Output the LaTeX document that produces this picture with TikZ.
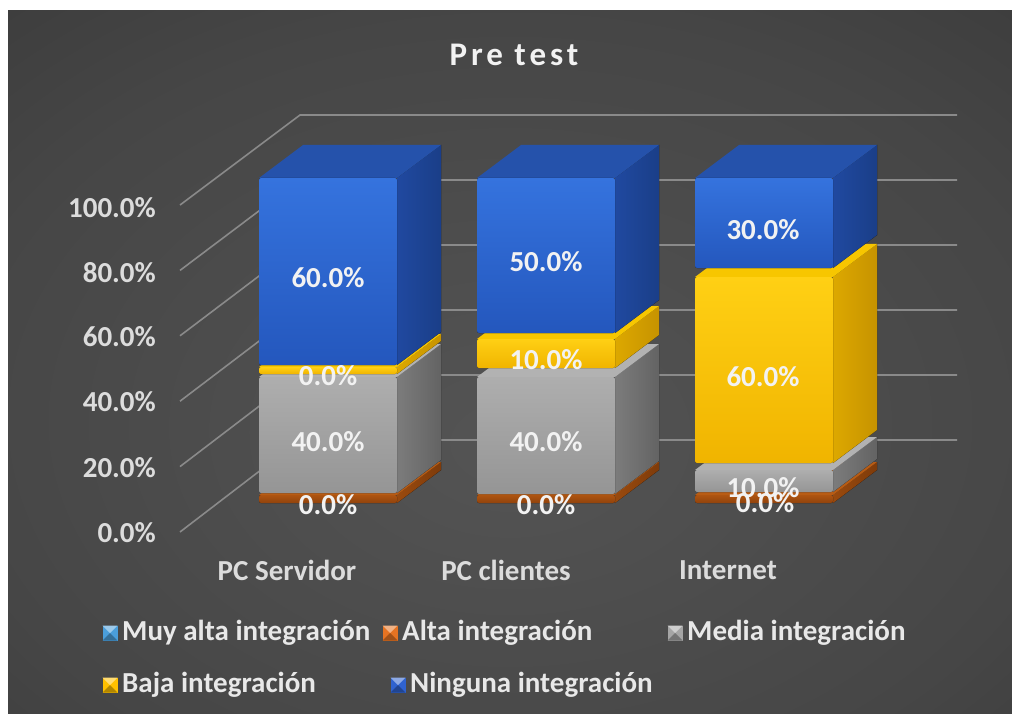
\documentclass[tikz,border=0pt]{standalone}
\usepackage{fontspec}
\setmainfont{Carlito}
\newfontfamily\titlefont{Carlito}[LetterSpace=12]

% background and text colours
\definecolor{bgA}{HTML}{545454}
\definecolor{bgB}{HTML}{464646}
\definecolor{bgC}{HTML}{323232}
\definecolor{bgD}{HTML}{252525}
\definecolor{gridc}{HTML}{8A8A8A}
\definecolor{axc}{HTML}{DCDCDC}
\definecolor{datc}{HTML}{F2F2F2}
\definecolor{legc}{HTML}{E8E8E8}
% series colours: front top/bottom, top face, side light/dark
\definecolor{blA}{HTML}{3573DE}\definecolor{blB}{HTML}{2457BD}\definecolor{blT}{HTML}{2552AB}
\definecolor{blS}{HTML}{2049A0}\definecolor{blD}{HTML}{1A3E88}
\definecolor{grA}{HTML}{AEAEAE}\definecolor{grB}{HTML}{959595}\definecolor{grT}{HTML}{B2B2B2}
\definecolor{grS}{HTML}{7C7C7C}\definecolor{grD}{HTML}{636363}
\definecolor{yeA}{HTML}{FFD014}\definecolor{yeB}{HTML}{F0B400}\definecolor{yeT}{HTML}{F7C600}
\definecolor{yeS}{HTML}{DDA800}\definecolor{yeD}{HTML}{C69300}
\definecolor{orA}{HTML}{AE5410}\definecolor{orB}{HTML}{90430C}\definecolor{orT}{HTML}{B85C14}
\definecolor{orS}{HTML}{9A4A0E}\definecolor{orD}{HTML}{7E3B0A}
% legend key colours
\definecolor{kMuy}{HTML}{4A9EDB}
\definecolor{kAlta}{HTML}{E57322}
\definecolor{kMedia}{HTML}{A5A5A5}
\definecolor{kBaja}{HTML}{FFC000}
\definecolor{kNing}{HTML}{2F62CF}

\pgfdeclareradialshading{bgglow}{\pgfpoint{0bp}{-6bp}}{%
  color(0bp)=(bgA); color(28bp)=(bgB); color(52bp)=(bgC); color(74bp)=(bgD)}

% one stacked segment: x0, y top, y bottom, front top, front bottom, top face, side light, side dark
\newcommand\drawblock[8]{%
  \fill[left color=#7,right color=#8] (#1+138,#3) -- (#1+182,#3-33) -- (#1+182,#2-33) -- (#1+138,#2) -- cycle;
  \fill[#6] (#1,#2) -- (#1+44,#2-33) -- (#1+182,#2-33) -- (#1+138,#2) -- cycle;
  \fill[top color=#4,bottom color=#5,rounded corners=2pt] (#1,#2) rectangle (#1+138,#3);
}
% bevelled legend key: centre x, centre y, colour
\newcommand\legkey[3]{%
  \fill[#3] (#1-7.5,#2-7.5) rectangle (#1+7.5,#2+7.5);
  \fill[#3!55!white] (#1-7.5,#2-7.5) -- (#1+7.5,#2-7.5) -- (#1,#2) -- cycle;
  \fill[#3!70!black] (#1-7.5,#2+7.5) -- (#1+7.5,#2+7.5) -- (#1,#2) -- cycle;
}

\begin{document}
\begin{tikzpicture}[x=1pt,y=-1pt,
  grid/.style={draw=gridc,line width=1.6pt},
  lab/.style={inner sep=0pt,font=\fontsize{29}{34}\selectfont\bfseries},
  axlab/.style={lab,text=axc,anchor=east},
  catlab/.style={lab,text=axc},
  datlab/.style={lab,text=datc},
  leglab/.style={lab,text=legc,anchor=west}]
\useasboundingbox (0,0) rectangle (1012,714);
\fill[white] (0,0) rectangle (1012,714);
\path[shading=bgglow] (8,11) rectangle (1012,714);

% title
\node[inner sep=0pt,text=datc,font=\titlefont\fontsize{33}{38}\selectfont\bfseries] (title) at (514,55) {Pre test};

% gridlines: side wall diagonals and back wall
\foreach \k in {0,...,5}{
  \draw[grid] (180,{532-65.4*\k}) -- (300,{440-65*\k}) -- (957,{440-65*\k});
}

% value axis
\node[axlab] (y100) at (156,208) {100.0\%};
\node[axlab] (y80)  at (156,273) {80.0\%};
\node[axlab] (y60)  at (156,337) {60.0\%};
\node[axlab] (y40)  at (156,402) {40.0\%};
\node[axlab] (y20)  at (156,468) {20.0\%};
\node[axlab] (y0)   at (156,533) {0.0\%};

% PC Servidor
\drawblock{259}{495}{503}{orA}{orB}{orT}{orS}{orD}
\drawblock{259}{377}{493}{grA}{grB}{grT}{grS}{grD}
\drawblock{259}{367}{374}{yeA}{yeB}{yeT}{yeS}{yeD}
\drawblock{259}{178}{365}{blA}{blB}{blT}{blS}{blD}
% PC clientes
\drawblock{477}{495}{503}{orA}{orB}{orT}{orS}{orD}
\drawblock{477}{377}{494}{grA}{grB}{grT}{grS}{grD}
\drawblock{477}{339}{368}{yeA}{yeB}{yeT}{yeS}{yeD}
\drawblock{477}{178}{333}{blA}{blB}{blT}{blS}{blD}
% Internet
\drawblock{695}{495}{503}{orA}{orB}{orT}{orS}{orD}
\drawblock{695}{470}{492}{grA}{grB}{grT}{grS}{grD}
\drawblock{695}{277}{463}{yeA}{yeB}{yeT}{yeS}{yeD}
\drawblock{695}{178}{268}{blA}{blB}{blT}{blS}{blD}

% data labels
\node[datlab] (s-ning) at (328,278) {60.0\%};
\node[datlab] (s-baja) at (328,376) {0.0\%};
\node[datlab] (s-med)  at (328,442) {40.0\%};
\node[datlab] (s-alta) at (328,505) {0.0\%};
\node[datlab] (c-ning) at (546,262) {50.0\%};
\node[datlab] (c-baja) at (546,360) {10.0\%};
\node[datlab] (c-med)  at (546,442) {40.0\%};
\node[datlab] (c-alta) at (546,505) {0.0\%};
\node[datlab] (i-ning) at (763,230) {30.0\%};
\node[datlab] (i-baja) at (763,377) {60.0\%};
\node[datlab] (i-med)  at (763,488) {10.0\%};
\node[datlab] (i-alta) at (765,503) {0.0\%};

% category axis
\node[catlab] (cat1) at (287,570) {PC Servidor};
\node[catlab] (cat2) at (506,570) {PC clientes};
\node[catlab] (cat3) at (728,570) {Internet};

% legend
\legkey{110}{633}{kMuy}
\node[leglab] (l-muy) at (122,633) {Muy alta integración};
\legkey{390}{633}{kAlta}
\node[leglab] (l-alta) at (402,633) {Alta integración};
\legkey{675}{633}{kMedia}
\node[leglab] (l-med) at (687,633) {Media integración};
\legkey{110}{685}{kBaja}
\node[leglab] (l-baja) at (122,685) {Baja integración};
\legkey{398}{685}{kNing}
\node[leglab] (l-ning) at (410,685) {Ninguna integración};
\end{tikzpicture}
\end{document}
